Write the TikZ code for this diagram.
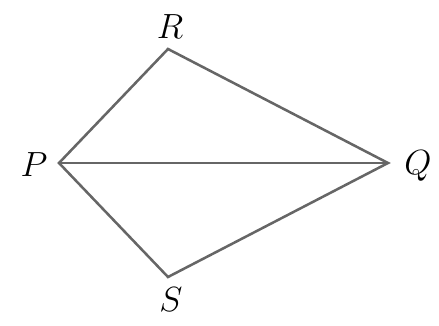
\documentclass[tikz,border=0pt]{standalone}
\usepackage{amsmath}
\usepackage{tikz}

\tikzset{
  edge/.style={draw=black!60, line width=1.8pt, line join=miter},
  vlabel/.style={font=\fontsize{31}{34}\selectfont, inner sep=0pt}
}

\begin{document}
\begin{tikzpicture}[x=0.025cm, y=-0.025cm]
                \useasboundingbox (0,0) rectangle (439,326);

                % Vertices
                \coordinate (P) at (59,163);
                \coordinate (Q) at (388,163);
                \coordinate (R) at (168,49);
                \coordinate (S) at (168,277);

                % Labels
                \node[vlabel] (lR) at (170,27) {$R$};
                \node[vlabel] (lP) at (34,165) {$P$};
                \node[vlabel] (lQ) at (418,166) {$Q$};
                \node[vlabel] (lS) at (171,300) {$S$};

                % Kite and diagonal
                \draw[edge] (P) -- (R) -- (Q) -- (S) -- cycle;
                \draw[edge] (P) -- (Q);
            \end{tikzpicture}
\end{document}
